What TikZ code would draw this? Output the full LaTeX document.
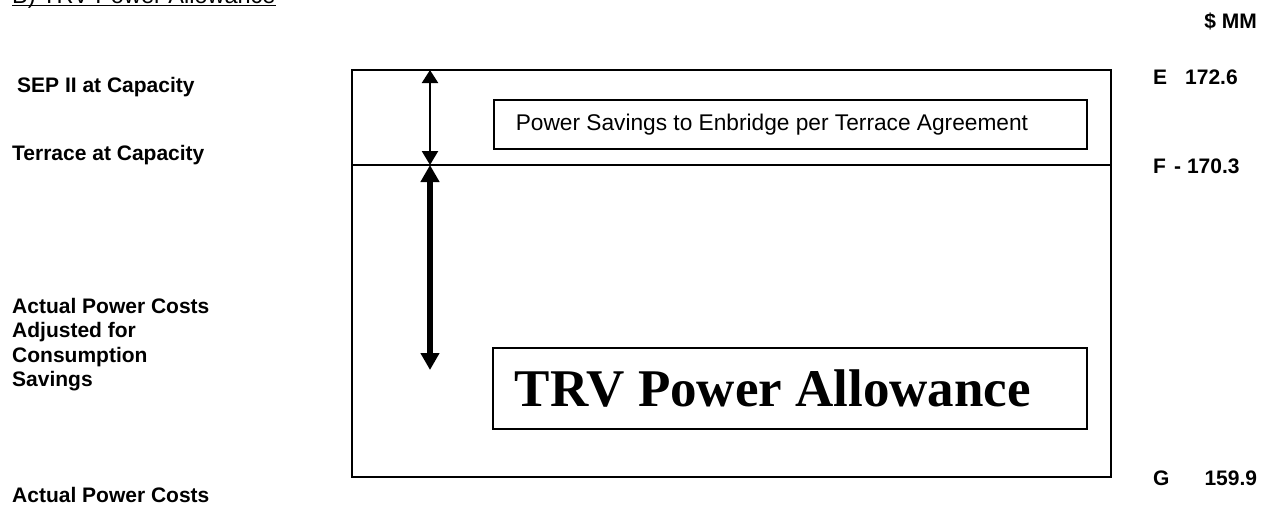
\documentclass[tikz,border=0pt]{standalone}
\usepackage{fontspec}
\setmainfont{Liberation Sans}
\newfontfamily\timesfont{Liberation Serif}
\usetikzlibrary{arrows.meta}
\begin{document}
\begin{tikzpicture}[x=1pt,y=-1pt,
  lbl/.style={font=\fontsize{21}{24.5}\selectfont\bfseries, inner sep=0pt, anchor=base west},
  textbox/.style={draw, line width=1.6pt, inner ysep=0pt, inner xsep=22pt, anchor=north west, align=flush left},
  frame/.style={line width=2pt},
  thinspan/.style={line width=2.2pt, {Triangle[width=16pt,length=13pt]}-{Triangle[width=16pt,length=14pt]}},
  thickspan/.style={line width=6pt, {Triangle[width=18pt,length=17pt]}-{Triangle[width=18pt,length=17pt]}},
]
\clip (0,0) rectangle (1270,506);
\fill[white] (0,0) rectangle (1270,506);

% heading, cut by the top edge of the page
\node[font=\fontsize{23.5}{27}\selectfont, inner sep=0pt, anchor=base west] (title) at (12,3) {B) TRV Power Allowance};
\draw[line width=1.5pt] ([yshift=-2.5pt]title.base west) -- ([yshift=-2.5pt]title.base east);

% outer frame and the level of F
\draw[frame] (352,70) rectangle (1111,477);
\draw[frame] (352,165) -- (1111,165);

% boxed captions
\node[textbox, text width=549pt, minimum height=49pt, font=\fontsize{22.7}{26}\selectfont] (savings) at (493,99)
  {Power Savings to Enbridge per Terrace Agreement};
\node[textbox, text width=550pt, minimum height=81pt, font=\fontsize{53}{60}\selectfont\timesfont\bfseries] (allowance) at (492,347)
  {TRV Power Allowance};

% spans
\coordinate (levelE) at (430,70);
\coordinate (levelF) at (430,165);
\coordinate (lowtip) at (430,370);
\draw[thinspan] (levelE) -- (levelF);
\draw[thickspan] (levelF) -- (lowtip);

% left labels
\node[lbl] (sep) at (17,92) {SEP II at Capacity};
\node[lbl] (terrace) at (12,160) {Terrace at Capacity};
\node[lbl, align=flush left, anchor=north west] (adjusted) at (12,298)
  {Actual Power Costs\\Adjusted for\\Consumption\\Savings};
\node[lbl] (actual) at (12,502) {Actual Power Costs};

% right values
\node[lbl, anchor=base east] (unit) at (1257,28) {\$ MM};
\node[lbl] (valE) at (1153,84) {E\hspace{18pt}172.6};
\node[lbl] (valF) at (1153,173) {F\hspace{8pt}-\hspace{6pt}170.3};
\node[lbl] (valG) at (1153,485) {G\hspace{35pt}159.9};
\end{tikzpicture}
\end{document}
